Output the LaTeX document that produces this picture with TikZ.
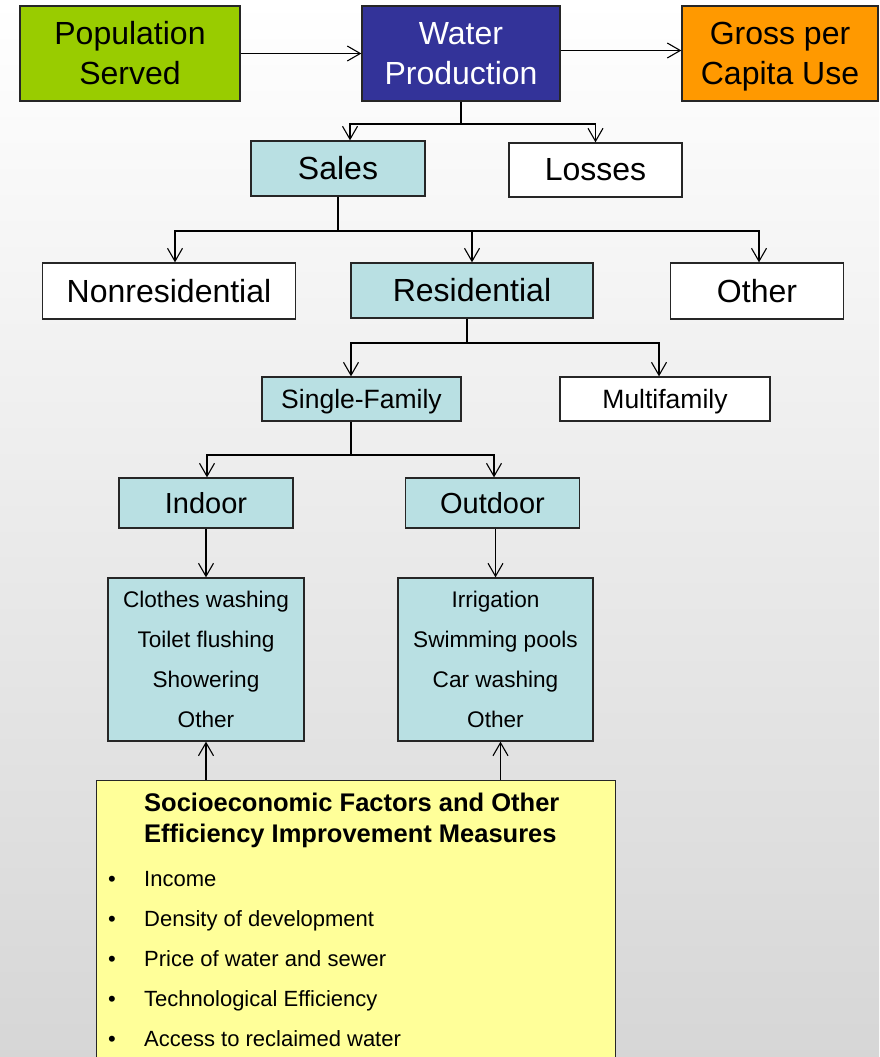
\documentclass[tikz,border=0pt]{standalone}
\usepackage{fontspec}
\setmainfont{Liberation Sans}
\usetikzlibrary{arrows.meta}
\definecolor{popgreen}{RGB}{153,204,0}
\definecolor{prodblue}{RGB}{51,51,153}
\definecolor{grossorange}{RGB}{255,153,0}
\definecolor{usecyan}{RGB}{185,224,227}
\definecolor{factyellow}{RGB}{255,255,153}
\begin{document}
\begin{tikzpicture}[x=1pt,y=-1pt,
    box/.style={draw=black!85,line width=1.3pt,inner sep=0pt,align=center},
    big/.style={font=\fontsize{32}{40}\selectfont},
    med/.style={font=\fontsize{29}{34}\selectfont},
    small/.style={font=\fontsize{26.5}{30}\selectfont,text height=19pt,text depth=0pt},
    list/.style={font=\fontsize{22.6}{40}\selectfont},
    item/.style={anchor=base west,inner sep=0pt,font=\fontsize{22}{25}\selectfont},
    arr/.style={line width=1.1pt,-{Straight Barb[length=13pt,width=15pt]}},
    link/.style={line width=1.1pt}]
        \useasboundingbox (0,0) rectangle (879,1057);
        \shade[top color=white,bottom color=gray!32] (0,0) rectangle (879,1057);

        % top row
        \node[box,big,fill=popgreen,minimum width=220pt,minimum height=95pt] (pop) at (130,53.5) {Population\\Served};
        \node[box,big,fill=prodblue,text=white,minimum width=198pt,minimum height=95pt] (water) at (461,53.5) {Water\\Production};
        \node[box,big,fill=grossorange,minimum width=196pt,minimum height=95pt] (gross) at (780,53.5) {Gross per\\\raisebox{0pt}[\height][0pt]{Capita Use}};
        \draw[arr] (pop.east) -- (water.west);
        \draw[arr] ([yshift=3pt]water.east) -- ([yshift=3pt]gross.west);

        % sales and losses
        \node[box,big,fill=usecyan,minimum width=174pt,minimum height=55pt] (sales) at (338,168.5) {Sales};
        \node[box,big,fill=white,minimum width=173pt,minimum height=54pt] (losses) at (595.5,170) {Losses};
        \draw[link] (water.south) -- (water.south |- 0,124) coordinate (j1);
        \draw[arr] (j1) -| ([xshift=12pt]sales.north);
        \draw[arr] (j1) -| (losses.north);

        % customer classes
        \node[box,big,fill=white,minimum width=253pt,minimum height=56pt] (nonres) at (169,291) {Nonresidential};
        \node[box,big,fill=usecyan,minimum width=242pt,minimum height=55pt] (res) at (472,290.5) {Residential};
        \node[box,big,fill=white,minimum width=173pt,minimum height=56pt] (other) at (757,291) {Other};
        \draw[link] (sales.south) -- (sales.south |- 0,231) coordinate (j2);
        \draw[arr] (j2) -| ([xshift=6pt]nonres.north);
        \draw[arr] (j2) -| (res.north);
        \draw[arr] (j2) -| ([xshift=2pt]other.north);

        % residential split
        \node[box,small,fill=usecyan,minimum width=199pt,minimum height=44pt] (single) at (361.5,399) {Single-Family};
        \node[box,small,fill=white,minimum width=210pt,minimum height=44pt] (multi) at (665,399) {Multifamily};
        \draw[link] ([xshift=-5pt]res.south) -- ([xshift=-5pt]res.south |- 0,343) coordinate (j3);
        \draw[arr] (j3) -| ([xshift=-10.5pt]single.north);
        \draw[arr] (j3) -| ([xshift=-6pt]multi.north);

        % indoor and outdoor
        \node[box,med,fill=usecyan,minimum width=174pt,minimum height=50pt] (indoor) at (206,503) {Indoor};
        \node[box,med,fill=usecyan,minimum width=174pt,minimum height=50pt] (outdoor) at (492.5,503) {Outdoor};
        \draw[link] ([xshift=-10.5pt]single.south) -- ([xshift=-10.5pt]single.south |- 0,455) coordinate (j4);
        \draw[arr] (j4) -| ([xshift=1pt]indoor.north);
        \draw[arr] (j4) -| ([xshift=1.5pt]outdoor.north);

        % end uses
        \node[box,list,fill=usecyan,minimum width=196pt,minimum height=163pt] (inlist) at (206,659.5) {Clothes washing\\Toilet flushing\\Showering\\Other};
        \node[box,list,fill=usecyan,minimum width=195pt,minimum height=163pt] (outlist) at (495.5,659.5) {Irrigation\\Swimming pools\\Car washing\\Other};
        \draw[arr] (indoor.south) -- (inlist.north -| indoor.south);
        \draw[arr] (outlist.north |- outdoor.south) -- (outlist.north);

        % factors box
        \node[box,fill=factyellow,anchor=north west,minimum width=519pt,minimum height=320pt] (factors) at (96,780) {};
        \draw[arr] (factors.north -| inlist.south) -- (inlist.south);
        \draw[arr] ([xshift=5pt]outlist.south |- factors.north) -- ([xshift=5pt]outlist.south);
        \node[anchor=west,align=left,inner sep=0pt,font=\bfseries\fontsize{25.5}{31}\selectfont] (title) at (144,820) {Socioeconomic Factors and Other\\Efficiency Improvement Measures};
        \node[item] (income) at (108,886) {\makebox[36pt][l]{•}Income};
        \node[item] (density) at (108,926) {\makebox[36pt][l]{•}Density of development};
        \node[item] (price) at (108,966) {\makebox[36pt][l]{•}Price of water and sewer};
        \node[item] (tech) at (108,1006) {\makebox[36pt][l]{•}Technological Efficiency};
        \node[item] (access) at (108,1046) {\makebox[36pt][l]{•}Access to reclaimed water};
\end{tikzpicture}
\end{document}
